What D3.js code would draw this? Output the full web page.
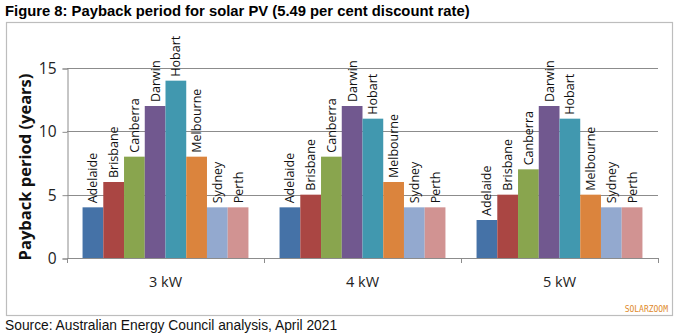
<!DOCTYPE html>
<html>
<head>
<meta charset="utf-8">
<script src="https://cdn.jsdelivr.net/npm/d3@7"></script>
<style>
  body { margin: 0; background: #fff; }
</style>
</head>
<body>
<div id="chart"></div>
<script>
// chart data
var systems = ["3 kW", "4 kW", "5 kW"];
var cities = ["Adelaide", "Brisbane", "Canberra", "Darwin", "Hobart", "Melbourne", "Sydney", "Perth"];
var payback3kW = [4, 6, 8, 12, 14, 8, 4, 4];
var payback4kW = [4, 5, 8, 12, 11, 6, 4, 4];
var payback5kW = [3, 5, 7, 12, 11, 5, 4, 4];
var yTicks = [0, 5, 10, 15];
var cityColors = ["#4572A7", "#AA4643", "#89A54E", "#71588F", "#4198AF", "#DB843D", "#93A9CF", "#D19392"];

var series = [payback3kW, payback4kW, payback5kW];

var W = 680, H = 333;
var plot = { left: 67, right: 658, top: 68, bottom: 258 };

var svg = d3.select("#chart")
    .append("svg")
    .attr("width", W)
    .attr("height", H);

// title
svg.append("text")
    .attr("x", 5)
    .attr("y", 16)
    .style("font-family", "Liberation Sans, Arial, sans-serif")
    .style("font-size", "14.8px")
    .style("font-weight", "bold")
    .text("Figure 8: Payback period for solar PV (5.49 per cent discount rate)");

// chart frame
svg.append("rect")
    .attr("x", 6.5)
    .attr("y", 22.5)
    .attr("width", 666)
    .attr("height", 293)
    .attr("fill", "none")
    .attr("stroke", "#bdbdbd")
    .attr("stroke-width", 1.2);

var x0 = d3.scaleBand()
    .domain(systems)
    .range([plot.left, plot.right])
    .padding(0);

var x1 = d3.scaleBand()
    .domain(cities)
    .range([0, x0.bandwidth()])
    .paddingInner(0)
    .paddingOuter(0.75);

var y = d3.scaleLinear()
    .domain([0, 15])
    .range([plot.bottom, plot.top]);

var color = d3.scaleOrdinal().domain(cities).range(cityColors);

// gridlines
svg.append("g")
    .selectAll("line")
    .data(yTicks)
    .enter()
    .append("line")
    .attr("x1", plot.left)
    .attr("x2", plot.right)
    .attr("y1", function (d) { return Math.round(y(d)) + 0.5; })
    .attr("y2", function (d) { return Math.round(y(d)) + 0.5; })
    .attr("stroke", "#8c8c8c")
    .attr("stroke-width", 1);

// y axis
var yAxis = svg.append("g")
    .attr("transform", "translate(" + (plot.left + 0.5) + ",0.5)")
    .call(d3.axisLeft(y).tickValues(yTicks).tickSize(5).tickPadding(6));
yAxis.select(".domain").attr("stroke", "#8c8c8c");
yAxis.selectAll(".tick line").attr("stroke", "#8c8c8c");
yAxis.selectAll("text")
    .style("font-family", "Open Sans, sans-serif")
    .style("font-size", "15.5px")
    .attr("fill", "#222");

// y title
svg.append("text")
    .attr("transform", "translate(31," + ((plot.top + plot.bottom) / 2 + 4) + ") rotate(-90)")
    .attr("text-anchor", "middle")
    .style("font-family", "Open Sans, sans-serif")
    .style("font-size", "16.5px")
    .style("font-weight", "bold")
    .attr("fill", "#111")
    .text("Payback period (years)");

// x axis
var xAxis = svg.append("g")
    .attr("transform", "translate(0," + (Math.round(plot.bottom) + 0.5) + ")")
    .call(d3.axisBottom(x0).tickSize(0).tickPadding(18));
xAxis.select(".domain").remove();
xAxis.selectAll("text")
    .style("font-family", "Open Sans, sans-serif")
    .style("font-size", "14.5px")
    .attr("fill", "#222");

// category separator ticks
svg.append("g")
    .selectAll("line")
    .data([plot.left].concat(systems.map(function (s) { return x0(s) + x0.bandwidth(); })))
    .enter()
    .append("line")
    .attr("x1", function (d) { return Math.round(d) + 0.5; })
    .attr("x2", function (d) { return Math.round(d) + 0.5; })
    .attr("y1", plot.bottom)
    .attr("y2", plot.bottom + 5)
    .attr("stroke", "#8c8c8c");

// bars per system
var groups = svg.append("g")
    .selectAll("g")
    .data(systems)
    .enter()
    .append("g")
    .attr("transform", function (d) { return "translate(" + x0(d) + ",0)"; });

var cells = groups.selectAll("g")
    .data(function (d, i) {
        return cities.map(function (c, j) { return { city: c, value: series[i][j] }; });
    })
    .enter()
    .append("g");

cells.append("rect")
    .attr("x", function (d) { return x1(d.city); })
    .attr("y", function (d) { return y(d.value); })
    .attr("width", x1.bandwidth())
    .attr("height", function (d) { return y(0) - y(d.value); })
    .attr("fill", function (d) { return color(d.city); });

cells.append("text")
    .attr("transform", function (d) {
        return "translate(" + (x1(d.city) + x1.bandwidth() / 2 + 4.5) + "," + (y(d.value) - 4) + ") rotate(-90)";
    })
    .style("font-family", "Open Sans, sans-serif")
    .style("font-size", "12.5px")
    .attr("fill", "#111")
    .text(function (d) { return d.city; });

// watermark
svg.append("text")
    .attr("x", 668)
    .attr("y", 312)
    .attr("text-anchor", "end")
    .style("font-family", "DejaVu Sans Mono, monospace")
    .style("font-size", "8px")
    .attr("fill", "#e08a2c")
    .text("SOLARZOOM");

// source
svg.append("text")
    .attr("x", 5)
    .attr("y", 329.5)
    .style("font-family", "Liberation Sans, Arial, sans-serif")
    .style("font-size", "13.8px")
    .attr("fill", "#111")
    .text("Source: Australian Energy Council analysis, April 2021");
</script>
</body>
</html>
